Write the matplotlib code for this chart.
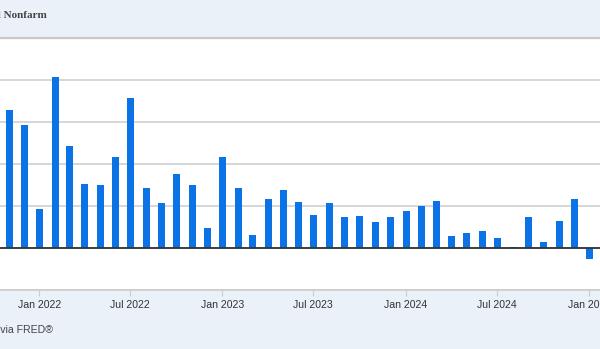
import datetime as dt
import matplotlib
matplotlib.use("Agg")
import matplotlib.pyplot as plt
import matplotlib.dates as mdates

# monthly change, thousands of persons
months = [
    "2021-11", "2021-12",
    "2022-01", "2022-02", "2022-03", "2022-04", "2022-05", "2022-06",
    "2022-07", "2022-08", "2022-09", "2022-10", "2022-11", "2022-12",
    "2023-01", "2023-02", "2023-03", "2023-04", "2023-05", "2023-06",
    "2023-07", "2023-08", "2023-09", "2023-10", "2023-11", "2023-12",
    "2024-01", "2024-02", "2024-03", "2024-04", "2024-05", "2024-06",
    "2024-07", "2024-08", "2024-09", "2024-10", "2024-11", "2024-12",
    "2025-01",
]
changes = [
    655, 584,
    187, 816, 488, 306, 298, 432,
    713, 287, 215, 354, 298, 94,
    432, 287, 64, 234, 276, 220,
    158, 212, 148, 153, 124, 148,
    174, 202, 223, 59, 73, 83,
    49, 6, 150, 30, 127, 231,
    -53,
]
tick_dates = ["2022-01", "2022-07", "2023-01", "2023-07", "2024-01", "2024-07", "2025-01"]

title = "All Employees, Total Nonfarm"
footer = "Source: U.S. Bureau of Labor Statistics via FRED®"

band = "#eaf1f9"
bar_col = "#0b73e6"

dates = [dt.datetime.strptime(m, "%Y-%m") + dt.timedelta(days=1) for m in months]
ticks = [dt.datetime.strptime(m, "%Y-%m") for m in tick_dates]

fig = plt.figure(figsize=(6, 3.49), dpi=100, facecolor=band)
ax = fig.add_axes([0, 59 / 349, 1, 252 / 349])
ax.set_facecolor("white")

ax.bar(dates, changes, width=14, color=bar_col, zorder=3)

# x range matches the cropped view
ax.set_xlim(dt.datetime(2022, 1, 1) - dt.timedelta(days=78.3),
            dt.datetime(2025, 1, 1) + dt.timedelta(days=21.3))
ax.set_ylim(-200, 1000)

ax.set_yticks([-200, 0, 200, 400, 600, 800, 1000])
ax.yaxis.grid(True, color="#cccccc", linewidth=1.1, zorder=0)
ax.axhline(0, color="#333333", linewidth=1.3, zorder=4)
ax.tick_params(axis="y", left=False, labelleft=False)

ax.set_xticks(ticks)
ax.xaxis.set_major_formatter(mdates.DateFormatter("%b %Y"))
ax.tick_params(axis="x", direction="out", length=4.5, width=0.8, color="#cccccc",
               labelsize=7.6, labelcolor="#333333", pad=3)
for lab in ax.get_xticklabels():
    lab.set_fontfamily("Liberation Sans")

for side in ["left", "right"]:
    ax.spines[side].set_visible(False)
ax.spines["top"].set_color("#c8c8c8")
ax.spines["top"].set_linewidth(1.6)
ax.spines["bottom"].set_color("#cccccc")
ax.spines["bottom"].set_linewidth(1.2)

fig.text(47 / 600, 1 - 16 / 349, title, ha="right", va="center",
         fontsize=8, fontweight="bold", color="#444444", family="Liberation Serif")
fig.text(53 / 600, 1 - 330 / 349, footer, ha="right", va="center",
         fontsize=7.6, color="#444444", family="Liberation Sans")

fig.savefig("out.png", dpi=100, facecolor=band)
